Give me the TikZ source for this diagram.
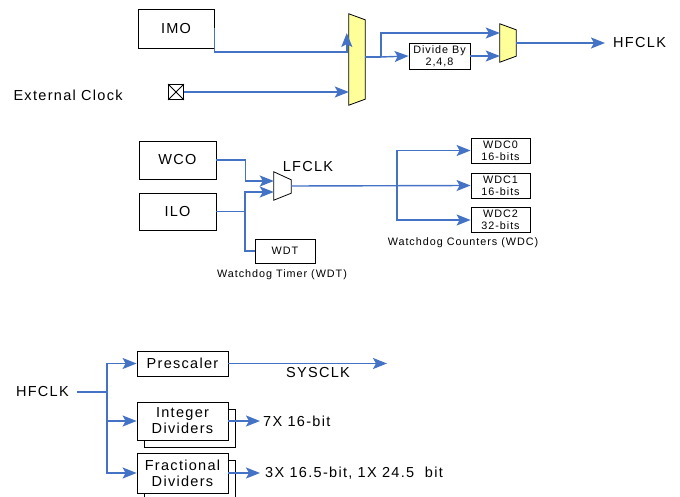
\documentclass[tikz,border=0pt]{standalone}
\usepackage{fontspec}
\setmainfont[LetterSpace=9]{Liberation Sans}
\usetikzlibrary{arrows.meta,calc}

\begin{document}
\begin{tikzpicture}[x=1pt, y=-1pt, font=\fontsize{14.5}{16}\selectfont,
	box/.style = {draw, line width=0.8pt, fill=white, inner sep=0, align=center},
	small/.style = {font=\fontsize{10.8}{12}\selectfont},
	wire/.style = {draw={rgb,255:red,68;green,114;blue,196}, line width=1.4pt},
	arr/.style = {wire, -{Stealth[length=14pt, width=11pt, inset=3pt]}},
	mux/.style = {draw, line width=0.8pt, fill={rgb,255:red,255;green,255;blue,153}},
	slot/.style = {inner sep=0}]
	\useasboundingbox (0,0) rectangle (680,497);
	% high frequency clock
	\node[box, minimum width=76, minimum height=39] (imo) at (176,28.5) {IMO};
	\node[anchor=west] (ext) at (10,95) {External Clock};
	\node[box, minimum width=15, minimum height=15] (xin) at (176,92) {};
	\draw[line width=0.8pt] (xin.north west) -- (xin.south east) (xin.north east) -- (xin.south west);
	\node[slot, minimum width=16, minimum height=91] (m1) at (357,59.5) {};
	\draw[mux] (m1.north west) -- ($(m1.north east)+(0,6)$) -- ($(m1.south east)+(0,-6)$) -- (m1.south west) -- cycle;
	\node[box, small, minimum width=61, minimum height=26] (div) at (439.5,56) {Divide By\\2,4,8};
	\node[slot, minimum width=16, minimum height=38] (m2) at (508,43) {};
	\draw[mux] (m2.north west) -- ($(m2.north east)+(0,6)$) -- ($(m2.south east)+(0,-6)$) -- (m2.south west) -- cycle;
	\node[anchor=west, inner xsep=8] (hf) at (605,43) {HFCLK};
	\coordinate (b1) at (381,57);
	\draw[arr] (imo.east) |- ($(m1.west)+(-2,-7.5)$) -- ($(m1.west)+(-2,-26.5)$);
	\draw[arr] (xin.east) -- (m1.west |- xin.east);
	\draw[wire] (m1.east |- b1) -- (b1);
	\draw[arr] (b1) -- (div.west);
	\draw[arr] (b1) |- ($(m2.west)+(0,-10)$);
	\draw[arr] (div.east) -- (m2.west |- div.east);
	\draw[arr] (m2.east) -- (hf.west);
	% low frequency clock
	\node[box, minimum width=77, minimum height=38] (wco) at (177.5,160) {WCO};
	\node[box, minimum width=77, minimum height=37] (ilo) at (177.5,211.5) {ILO};
	\node[slot, minimum width=17, minimum height=28] (m3) at (282.5,186) {};
	\draw[line width=0.8pt] (m3.north west) -- ($(m3.north east)+(0,8)$) -- ($(m3.south east)+(0,-7)$) -- (m3.south west) -- cycle;
	\node (lf) at (308,167) {LFCLK};
	\node[box, small, minimum width=60, minimum height=24] (wdt) at (285,251) {WDT};
	\node[small] (wdtl) at (282,275) {Watchdog Timer (WDT)};
	\node[box, small, minimum width=59, minimum height=25] (wdc0) at (500.5,150.5) {WDC0\\16-bits};
	\node[box, small, minimum width=59, minimum height=25] (wdc1) at (500.5,185.5) {WDC1\\16-bits};
	\node[box, small, minimum width=59, minimum height=25] (wdc2) at (500.5,220) {WDC2\\32-bits};
	\node[small] (wdcl) at (463,243) {Watchdog Counters (WDC)};
	\coordinate (j1) at (245,211.5);
	\coordinate (j2) at (397,186);
	\draw[arr] (wco.east) -- ++(29,0) |- ($(m3.west)+(0,-5)$);
	\draw[wire] (ilo.east) -- (j1);
	\draw[arr] (j1) |- ($(m3.west)+(0,6)$);
	\draw[wire] (j1) |- (wdt.west);
	\draw[arr] (m3.east) -- (wdc1.west);
	\draw[arr] (j2) |- (wdc0.west);
	\draw[arr] (j2) |- (wdc2.west);
	% peripheral clocks
	\node[anchor=east, inner xsep=8] (hf2) at (77,392) {HFCLK};
	\coordinate (j3) at (107,392);
	\node[box, minimum width=91, minimum height=25] (pre) at (182.5,363.5) {Prescaler};
	\node[box, minimum width=91, minimum height=38] (int2) at (189.5,428) {};
	\node[box, minimum width=91, minimum height=38] (int) at (182.5,421) {Integer\\Dividers};
	\node[box, minimum width=91, minimum height=40] (frac2) at (189.5,480) {};
	\node[box, minimum width=91, minimum height=40] (frac) at (182.5,473) {Fractional\\Dividers};
	\coordinate (sys) at (387,363.5);
	\node (sysl) at (318,373) {SYSCLK};
	\node[anchor=west, inner xsep=3] (o1) at (260,421) {7X 16-bit};
	\node[anchor=west, inner xsep=5] (o2) at (260,473) {3X 16.5-bit, 1X 24.5\ \ bit};
	\draw[wire] (hf2.east) -- (j3);
	\draw[arr] (j3) |- (pre.west);
	\draw[arr] (j3) |- (int.west);
	\draw[arr] (j3) |- (frac.west);
	\draw[arr] (pre.east) -- (sys);
	\draw[arr] (int.east) -- (o1.west);
	\draw[arr] (frac.east) -- (o2.west);
\end{tikzpicture}
\end{document}
